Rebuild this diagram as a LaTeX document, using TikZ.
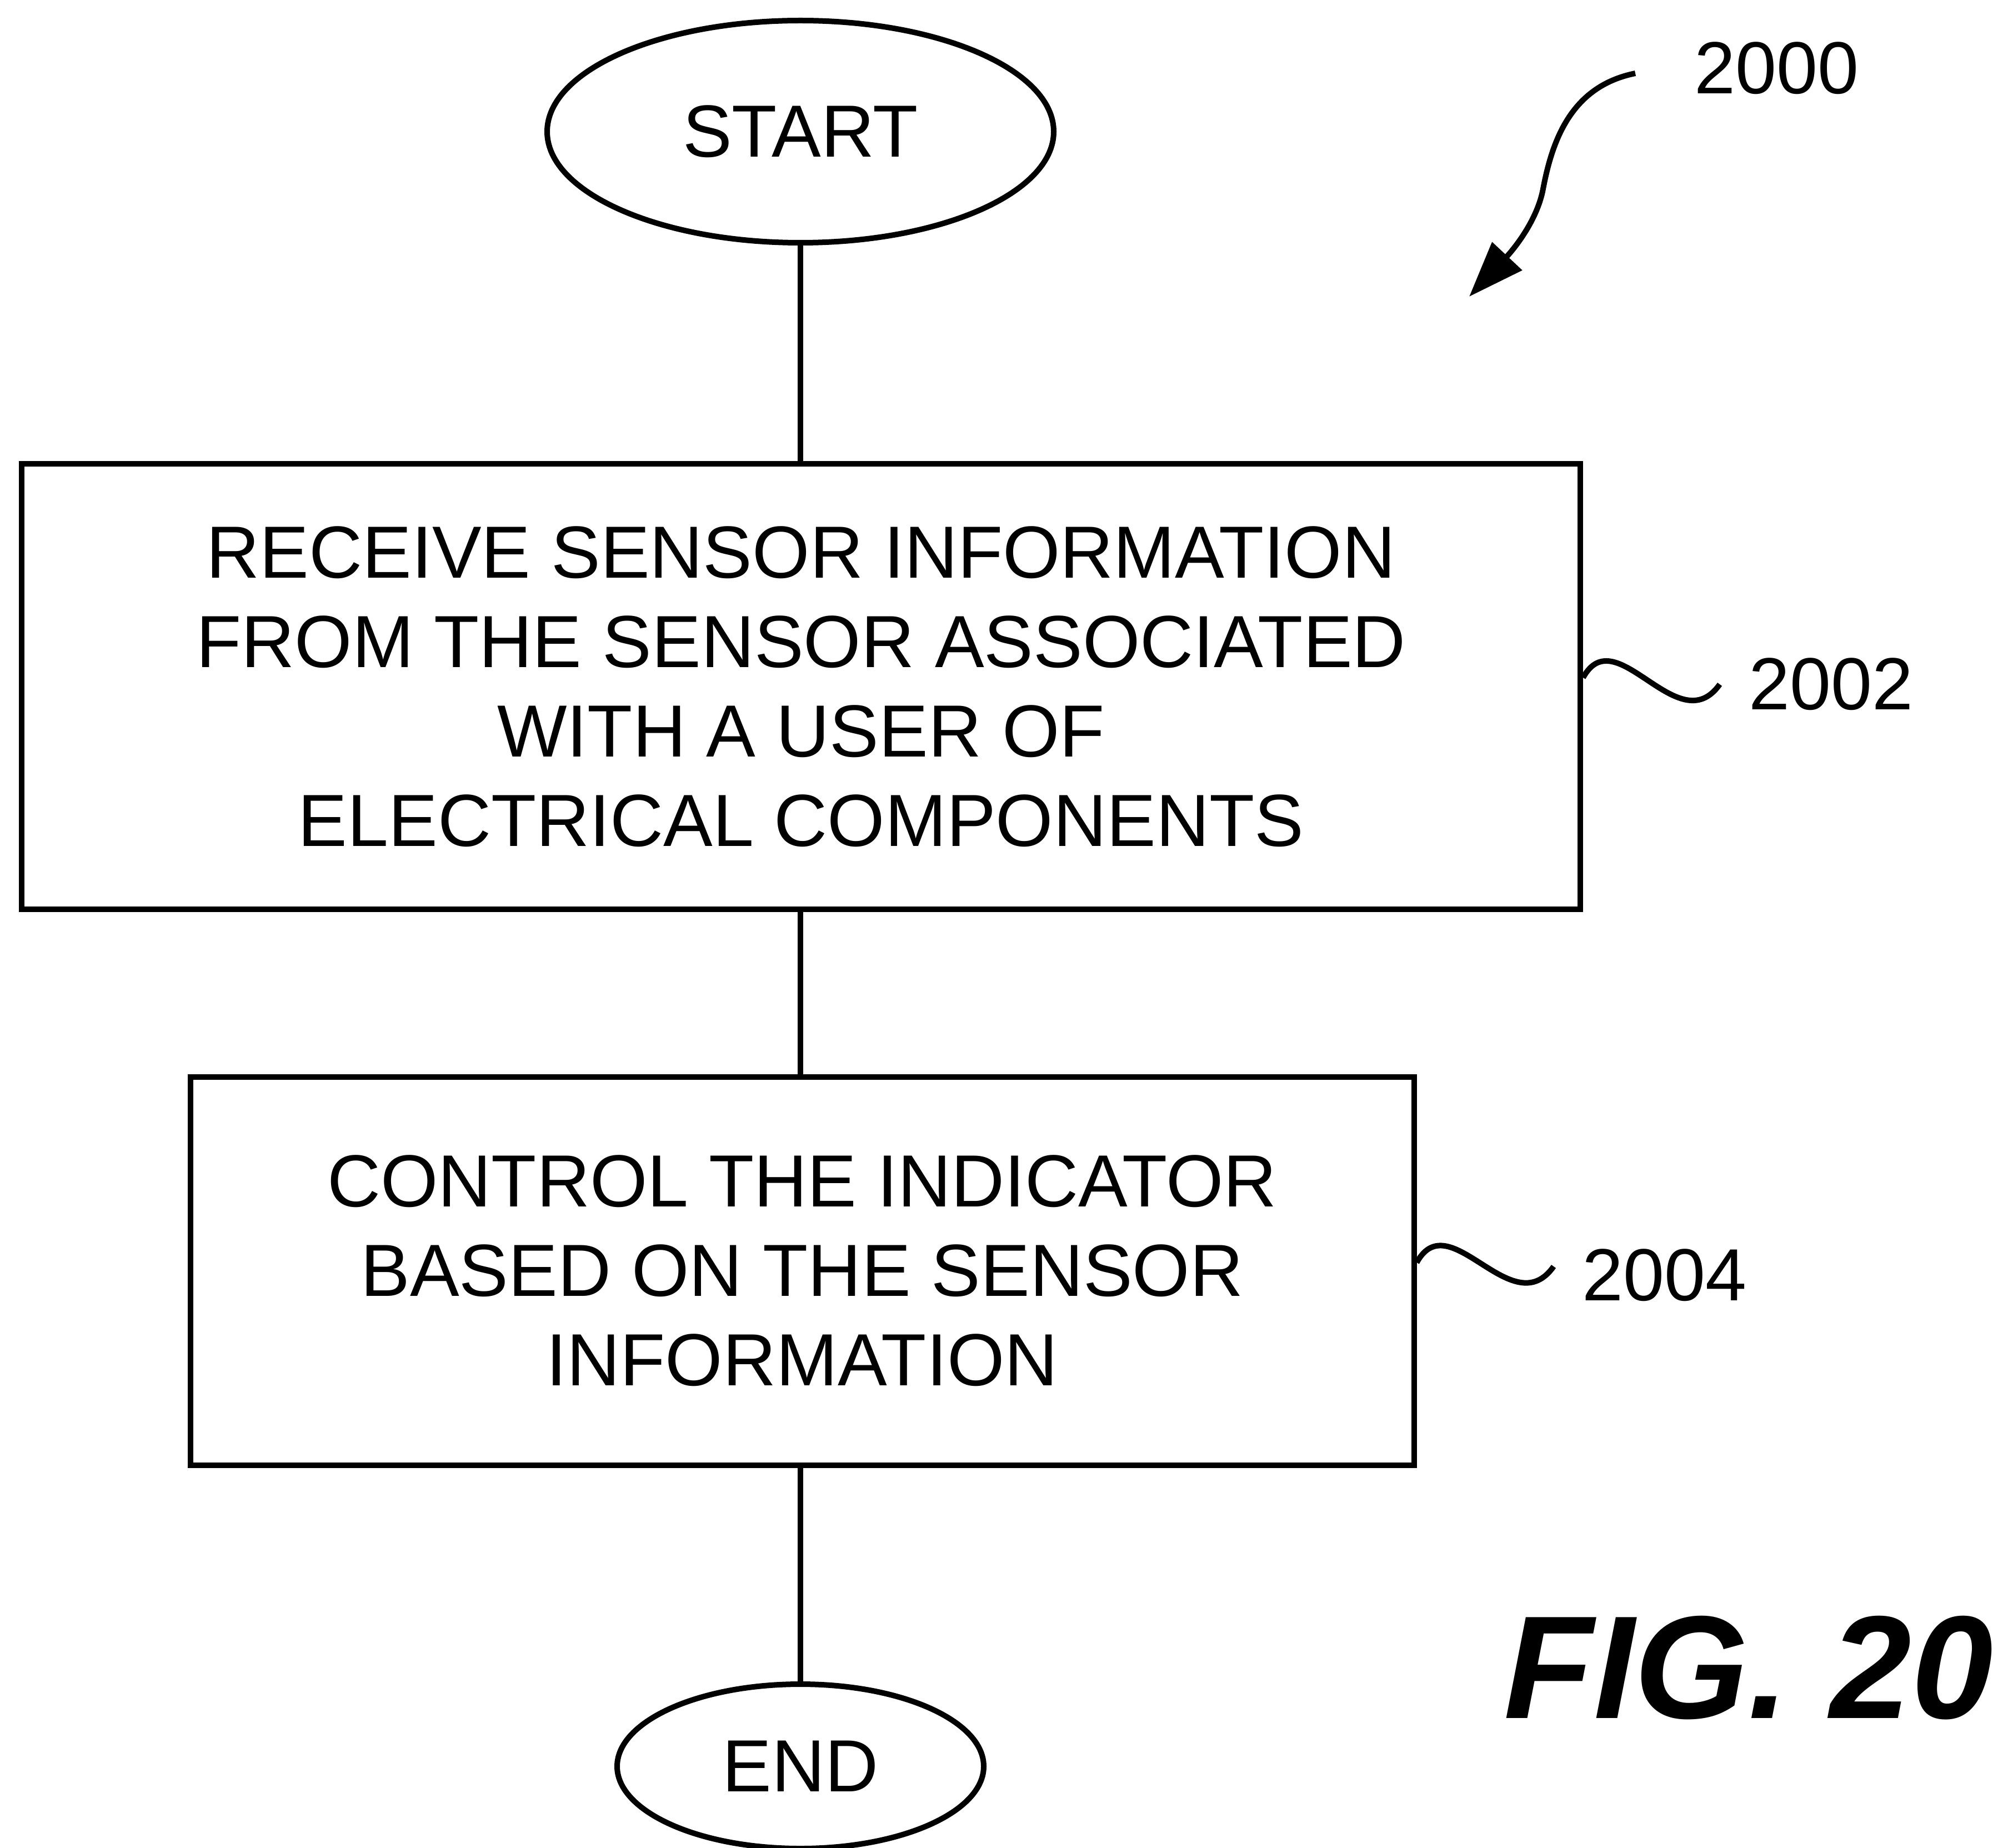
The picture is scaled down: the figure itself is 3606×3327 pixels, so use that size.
\documentclass[tikz,border=0pt]{standalone}
\usepackage{fontspec}
\setmainfont{Liberation Sans}
\usetikzlibrary{shapes.geometric,arrows.meta,calc}
\begin{document}
\begin{tikzpicture}[x=0.25pt,y=-0.25pt,
  ln/.style={line width=2.5pt, draw=black},
  txt/.style={font=\fontsize{33.25pt}{40.25pt}\selectfont},
  term/.style={ln, ellipse, inner sep=0pt, txt},
  stepbox/.style={ln, rectangle, inner sep=0pt, align=center, txt},
  refnum/.style={inner sep=0pt, anchor=west, txt},
  wave/.style={ln},
  lead/.style={ln, -{Triangle[length=25pt, width=18pt]}},
]
\path[use as bounding box] (0,0) rectangle (3606,3327);

% flow nodes
\node[term, minimum width=228pt, minimum height=100pt] (start) at (1441,237) {START};
\node[stepbox, minimum width=701.5pt, minimum height=200.5pt] (b1) at (1442,1236)
  {RECEIVE SENSOR INFORMATION\\FROM THE SENSOR ASSOCIATED\\WITH A USER OF\\ELECTRICAL COMPONENTS};
\node[stepbox, minimum width=550.75pt, minimum height=174.75pt] (b2) at (1444,2288)
  {CONTROL THE INDICATOR\\BASED ON THE SENSOR\\INFORMATION};
\node[term, minimum width=165pt, minimum height=74pt] (end) at (1441,3180) {END};

% connectors
\draw[ln] (start.south) -- (start.south |- b1.north);
\draw[ln] (start.south |- b1.south) -- (start.south |- b2.north);
\draw[ln] (start.south |- b2.south) -- (end.north);

% reference numerals
\node[refnum] (l2000) at (3050,123) {2000};
\node[refnum] (l2002) at (3148,1232) {2002};
\node[refnum] (l2004) at (2848,2296) {2004};

% lead arrow for 2000
\coordinate (a0) at ($(l2000.west)+(-106,9)$);
\coordinate (a1) at (2778,340);
\coordinate (tip2000) at (2645,534);
\draw[lead] (a0) .. controls (2830,155) and (2795,250) .. (a1)
  .. controls (2765,410) and (2705,470) .. (tip2000);

% wavy leaders
\coordinate (w1s) at ($(b1.east)+(0,-16)$);
\coordinate (w1e) at ($(l2002.west)+(-52,0)$);
\draw[wave] (w1s) .. controls ($(w1s)+(59,-108)$) and ($(w1e)+(-75,106)$) .. (w1e);

\coordinate (w2s) at ($(b2.east)+(0,-15)$);
\coordinate (w2e) at ($(l2004.west)+(-51,-16)$);
\draw[wave] (w2s) .. controls ($(w2s)+(59,-108)$) and ($(w2e)+(-75,106)$) .. (w2e);

% figure label
\node[inner sep=0pt, font=\fontsize{66pt}{70pt}\selectfont\bfseries\itshape] (fig) at (3148,3003) {FIG. 20};
\end{tikzpicture}
\end{document}
